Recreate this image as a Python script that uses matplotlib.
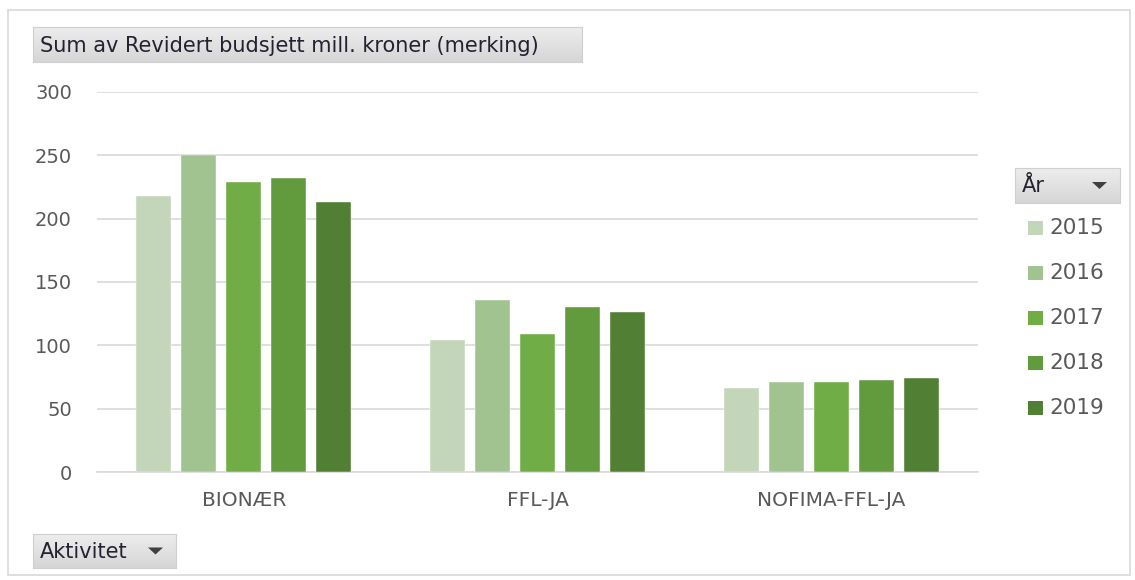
import numpy as np
import matplotlib
matplotlib.use('Agg')
import matplotlib.pyplot as plt
from matplotlib.patches import Rectangle, Polygon

# ------------------------------ data ------------------------------
categories = ['BIONÆR', 'FFL-JA', 'NOFIMA-FFL-JA']
years = ['2015', '2016', '2017', '2018', '2019']
v2015 = [218, 104, 66]
v2016 = [250, 136, 71]
v2017 = [229, 109, 71]
v2018 = [232, 130, 73]
v2019 = [213, 126, 74]
yticks = [0, 50, 100, 150, 200, 250, 300]

series = [v2015, v2016, v2017, v2018, v2019]
colors = ['#c3d6b9', '#a1c38f', '#70ad47', '#629a3e', '#517f33']

plt.rcParams['font.family'] = ['DejaVu Sans']

fig = plt.figure(figsize=(11.35, 5.8), dpi=100)
W, H = 1135, 580


def fx(px):
    return px / W


def fy(py):
    return 1 - py / H


# outer chart border
fig.patches.append(Rectangle((fx(8), fy(575)), fx(1122), 565 / H, transform=fig.transFigure,
                             fill=False, edgecolor='#d9d9d9', linewidth=1.2))

ax = fig.add_axes([fx(97), fy(472), fx(978 - 97), (472 - 92) / H])
x = np.arange(len(categories))
bw = 0.119
step = 0.153
for i, (vals, c) in enumerate(zip(series, colors)):
    ax.bar(x + (i - 2) * step, vals, width=bw, color=c, label=years[i], zorder=3,
           edgecolor='#ffffff', linewidth=0.3)

ax.set_xlim(-0.5, len(categories) - 0.5)
ax.set_ylim(0, 300)
ax.set_yticks(yticks)
ax.set_xticks(x)
ax.set_xticklabels(categories)
ax.yaxis.grid(True, color='#d9d9d9', linewidth=1.2, zorder=0)
for s in ['top', 'right', 'left']:
    ax.spines[s].set_visible(False)
ax.spines['bottom'].set_color('#d9d9d9')
ax.spines['bottom'].set_linewidth(1.2)
ax.tick_params(axis='both', length=0, labelsize=14, colors='#595959')
ax.tick_params(axis='y', pad=18)
ax.tick_params(axis='x', pad=14)
for lab in ax.get_xticklabels():
    lab.set_fontsize(14.5)

# gradient used for the grey field buttons
grad = np.linspace(0, 1, 64).reshape(-1, 1)
btn_cmap = matplotlib.colors.LinearSegmentedColormap.from_list('btn', ['#ededed', '#d6d6d6'])


def button(x0, y0, x1, y1, text, size, arrow=False):
    bax = fig.add_axes([fx(x0), fy(y1), fx(x1 - x0), (y1 - y0) / H])
    bax.imshow(grad, aspect='auto', cmap=btn_cmap, extent=[x0, x1, y1, y0])
    bax.set_xlim(x0, x1)
    bax.set_ylim(y1, y0)
    bax.set_xticks([])
    bax.set_yticks([])
    for s in bax.spines.values():
        s.set_color('#cfcfcf')
        s.set_linewidth(0.8)
    bax.text(x0 + 7, (y0 + y1) / 2 + 1, text, fontsize=size, color='#222233',
             va='center', ha='left')
    if arrow:
        yc = (y0 + y1) / 2
        bax.add_patch(Polygon([[x1 - 28, yc - 3.5], [x1 - 13, yc - 3.5], [x1 - 20.5, yc + 3.5]],
                              closed=True, facecolor='#404040', edgecolor='none'))


button(33, 27, 582, 62, 'Sum av Revidert budsjett mill. kroner (merking)', 15)
button(33, 534, 176, 568, 'Aktivitet', 15, arrow=True)
button(1015, 168, 1120, 203, 'År', 15, arrow=True)

# legend entries
for i, (yr, c) in enumerate(zip(years, colors)):
    yc = 228 + i * 45
    fig.patches.append(Rectangle((fx(1028), fy(yc + 7)), fx(15), 14 / H,
                                 transform=fig.transFigure, facecolor=c, edgecolor='none'))
    fig.text(fx(1049), fy(yc), yr, fontsize=15.5, color='#595959', va='center', ha='left')

plt.savefig('out.png', dpi=100)
plt.close()
